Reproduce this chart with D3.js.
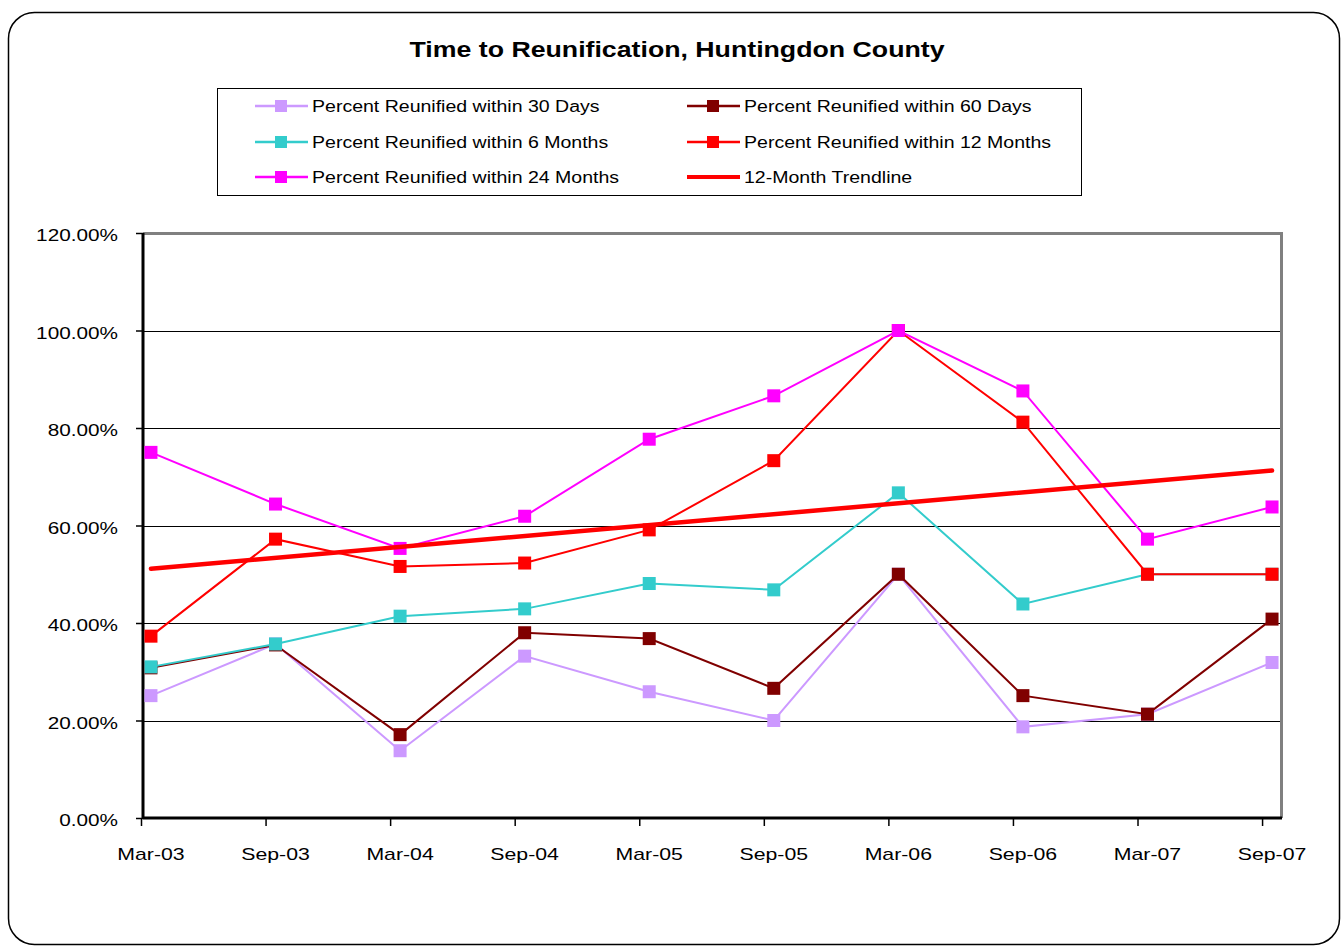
<!DOCTYPE html>
<html lang="en">
<head>
    <meta charset="UTF-8">
    <title>Time to Reunification, Huntingdon County</title>
    <script src="https://cdn.jsdelivr.net/npm/d3@7"></script>
</head>
<style>
    body { margin: 0; background: #fff; }
    text { font-family: "Liberation Sans", Arial, sans-serif; }
</style>
<body>
</body>
</html>
<script>
    // data (percent)
    var periods = ["Mar-03", "Sep-03", "Mar-04", "Sep-04", "Mar-05", "Sep-05", "Mar-06", "Sep-06", "Mar-07", "Sep-07"];
    var days30   = [25.1, 35.7, 13.8, 33.2, 25.9, 20.0, 50.0, 18.7, 21.3, 31.9];
    var days60   = [30.8, 35.5, 17.1, 38.0, 36.8, 26.6, 50.0, 25.1, 21.3, 40.8];
    var months6  = [31.0, 35.7, 41.4, 42.9, 48.1, 46.8, 66.7, 43.9, 50.0, 50.0];
    var months12 = [37.3, 57.2, 51.6, 52.3, 59.1, 73.3, 100, 81.2, 50.0, 50.0];
    var months24 = [75.0, 64.4, 55.3, 61.9, 77.7, 86.6, 100, 87.6, 57.2, 63.8];
    var yTicks = [0, 20, 40, 60, 80, 100, 120];

    var series = [
        {name: "Percent Reunified within 30 Days", values: days30, color: "#cc99ff"},
        {name: "Percent Reunified within 60 Days", values: days60, color: "#800000"},
        {name: "Percent Reunified within 6 Months", values: months6, color: "#33cccc"},
        {name: "Percent Reunified within 12 Months", values: months12, color: "#ff0000"},
        {name: "Percent Reunified within 24 Months", values: months24, color: "#ff00ff"}
    ];

    var w = 1344, h = 950;
    var pLeft = 143, pRight = 1282, pTop = 233, pBottom = 818;
    var pointOffset = 0.08;   // points sit a little right of the tick marks

    // the original text is drawn a bit wider than normal, stretch it
    function stretch(sel, k) {
        sel.each(function () {
            var len = this.getComputedTextLength();
            d3.select(this).attr("textLength", len * k).attr("lengthAdjust", "spacingAndGlyphs");
        });
    }

    var svg = d3.select("body").append("svg")
        .attr("width", w)
        .attr("height", h);

    // outer frame
    svg.append("rect")
        .attr("x", 8.5).attr("y", 12.5)
        .attr("width", 1331).attr("height", 932)
        .attr("rx", 26).attr("ry", 26)
        .attr("fill", "white")
        .attr("stroke", "black")
        .attr("stroke-width", 1.5);

    svg.append("text")
        .attr("x", 677).attr("y", 57)
        .attr("text-anchor", "middle")
        .attr("font-size", "22px")
        .attr("font-weight", "bold")
        .attr("textLength", 535)
        .attr("lengthAdjust", "spacingAndGlyphs")
        .text("Time to Reunification, Huntingdon County");

    var x = d3.scaleLinear().domain([0, 9.16]).range([pLeft - 2, pRight]);
    var y = d3.scaleLinear().domain([0, 120]).range([pBottom, pTop]);

    // gridlines
    svg.append("g").selectAll("line")
        .data(yTicks.slice(1, -1))
        .enter().append("line")
        .attr("x1", pLeft).attr("x2", pRight)
        .attr("y1", function (d) { return Math.round(y(d)) + 0.5; })
        .attr("y2", function (d) { return Math.round(y(d)) + 0.5; })
        .attr("stroke", "black")
        .attr("stroke-width", 1);

    // plot border top / right in gray
    svg.append("path")
        .attr("d", "M" + pLeft + "," + (pTop + 0.5) + "H" + (pRight - 0.5) + "V" + pBottom)
        .attr("fill", "none")
        .attr("stroke", "#808080")
        .attr("stroke-width", 3);

    // y axis
    var yAxis = svg.append("g")
        .attr("transform", "translate(" + pLeft + ",0)")
        .call(d3.axisLeft(y)
            .tickValues(yTicks)
            .tickSize(7)
            .tickPadding(18)
            .tickFormat(function (d) { return d3.format(".2f")(d) + "%"; }));
    yAxis.select(".domain").attr("stroke-width", 3).attr("d", "M0," + pTop + "V" + pBottom);
    yAxis.selectAll(".tick line").attr("stroke-width", 1.5);
    yAxis.selectAll("text").attr("font-size", "17px").attr("fill", "black")
        .attr("font-family", "'Liberation Sans', Arial, sans-serif")
        .attr("dy", "0.45em")
        .call(stretch, 1.22);

    // x axis: ticks at category boundaries, labels under the points
    var xAxis = svg.append("g")
        .attr("transform", "translate(0," + pBottom + ")")
        .call(d3.axisBottom(x)
            .tickValues(d3.range(periods.length))
            .tickSize(8)
            .tickFormat(""));
    xAxis.select(".domain").attr("stroke-width", 3).attr("d", "M" + pLeft + ",0H" + pRight);
    xAxis.selectAll(".tick line").attr("stroke-width", 1.5);

    svg.append("g").selectAll("text")
        .data(periods)
        .enter().append("text")
        .attr("x", function (d, i) { return x(i + pointOffset); })
        .attr("y", 860)
        .attr("text-anchor", "middle")
        .attr("font-size", "17px")
        .text(function (d) { return d; })
        .call(stretch, 1.25);

    var line = d3.line()
        .x(function (d, i) { return x(i + pointOffset); })
        .y(function (d) { return y(d); });

    var ms = 13;
    series.forEach(function (s) {
        var g = svg.append("g");
        g.append("path")
            .datum(s.values)
            .attr("d", line)
            .attr("fill", "none")
            .attr("stroke", s.color)
            .attr("stroke-width", 2);
        g.selectAll("rect")
            .data(s.values)
            .enter().append("rect")
            .attr("x", function (d, i) { return x(i + pointOffset) - ms / 2; })
            .attr("y", function (d) { return y(d) - ms / 2; })
            .attr("width", ms).attr("height", ms)
            .attr("fill", s.color);
    });

    // 12-month linear trendline (least squares)
    var idx = d3.range(months12.length);
    var mx = d3.mean(idx), my = d3.mean(months12);
    var slope = d3.sum(idx, function (i) { return (i - mx) * (months12[i] - my); }) /
                d3.sum(idx, function (i) { return (i - mx) * (i - mx); });
    var icpt = my - slope * mx;
    var trend = [0, months12.length - 1].map(function (i) { return [i, icpt + slope * i]; });
    svg.append("path")
        .datum(trend)
        .attr("d", d3.line()
            .x(function (d) { return x(d[0] + pointOffset); })
            .y(function (d) { return y(d[1]); }))
        .attr("stroke", "#ff0000")
        .attr("stroke-width", 4.5)
        .attr("stroke-linecap", "round");

    // legend
    var legend = svg.append("g");
    legend.append("rect")
        .attr("x", 217.5).attr("y", 88.5)
        .attr("width", 864).attr("height", 107)
        .attr("fill", "white")
        .attr("stroke", "black")
        .attr("stroke-width", 1);

    var items = series.map(function (s) { return {name: s.name, color: s.color, marker: true}; });
    var legendOrder = [items[0], items[1], items[2], items[3], items[4],
        {name: "12-Month Trendline", color: "#ff0000", marker: false}];
    var colX = [255, 687], rowY = [106, 142, 177];

    legendOrder.forEach(function (d, i) {
        var lx = colX[i % 2], ly = rowY[Math.floor(i / 2)];
        legend.append("line")
            .attr("x1", lx).attr("x2", lx + 53)
            .attr("y1", ly).attr("y2", ly)
            .attr("stroke", d.color)
            .attr("stroke-width", d.marker ? 2.5 : 4);
        if (d.marker) {
            legend.append("rect")
                .attr("x", lx + 26 - 6).attr("y", ly - 6)
                .attr("width", 12).attr("height", 12)
                .attr("fill", d.color);
        }
        legend.append("text")
            .attr("x", lx + 57).attr("y", ly + 6)
            .attr("font-size", "16px")
            .text(d.name)
            .call(stretch, 1.22);
    });
</script>
